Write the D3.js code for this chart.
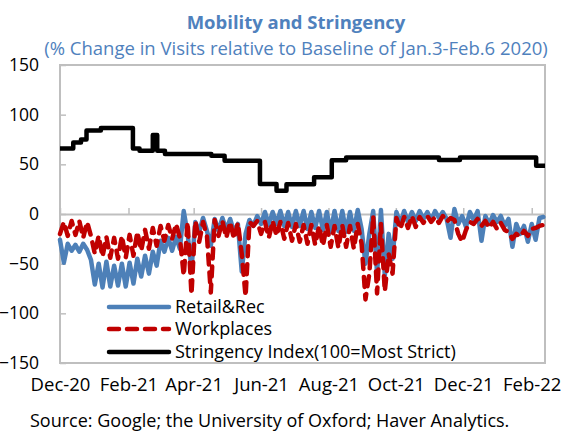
<!DOCTYPE html>
<html><head><meta charset="utf-8">
<script src="https://cdn.jsdelivr.net/npm/d3@7"></script>
<style>
html,body{margin:0;padding:0;background:#fff;}
text{font-family:"Open Sans",sans-serif;}
</style></head>
<body><svg id="c" width="562" height="435"></svg>
<script>
// ---- data ----
const titleText = "Mobility and Stringency";
const subtitleText = "(% Change in Visits relative to Baseline of Jan.3-Feb.6 2020)";
const sourceText = "Source: Google; the University of Oxford; Haver Analytics.";
const seriesNames = ["Retail&Rec", "Workplaces", "Stringency Index(100=Most Strict)"];
const yTicks = [-150, -100, -50, 0, 50, 100, 150];
const xTickDates = ["2020-12-01","2021-02-01","2021-04-01","2021-06-01","2021-08-01","2021-10-01","2021-12-01","2022-02-01"];
const xDomain = ["2020-12-01", "2022-02-13"];
// mobility readings, every 3.5 days from this date
const mobilityStart = "2020-12-01";
const mobilityStepHours = 84;
const retail = [-26,-49,-30,-37,-31,-38,-30,-36,-46,-71,-50,-74,-48,-73,-52,-72,-50,-73,-49,-70,
-45,-63,-42,-60,-38,-52,-27,-38,-24,-37,-23,-35,3,-20,-55,-8,-18,-4,-17,-32,
-5,-17,-4,-16,-5,-18,-10,-58,-20,-6,-12,-2,-10,2,-11,2,-10,3,-12,2,
-13,3,-12,3,-15,2,-14,3,-16,2,-18,3,-17,3,-18,2,-17,4,-15,-50,
-20,3,-60,4,-62,-20,-45,2,-10,3,-8,2,-7,3,-5,2,-6,3,-4,2,
-5,-24,5,-10,-2,-13,2,-6,3,-27,-2,-10,-1,-8,-2,-12,-5,-33,-10,-20,
-12,-28,-10,-26,-4,-3];
const workplaces = [-20,-8,-22,-7,-21,-7,-24,-8,-22,-40,-22,-43,-23,-44,-24,-45,-22,-44,-21,-42,
-18,-37,-16,-35,-14,-32,-12,-27,-11,-25,-10,-24,-62,-8,-81,-7,-28,-8,-22,-79,
-6,-22,-7,-24,-8,-25,-9,-40,-83,-8,-12,-7,-20,-8,-24,-7,-22,-8,-25,-9,
-27,-10,-28,-11,-30,-11,-31,-12,-32,-11,-33,-12,-34,-11,-33,-12,-35,-10,-30,-86,
-60,-2,-80,-10,-78,-40,-60,-4,-15,-3,-14,-2,-13,-3,-9,-2,-8,-3,-9,-2,
-8,-4,-6,-20,-28,-16,-8,-10,-5,-12,-7,-14,-8,-15,-9,-16,-18,-25,-20,-23,
-17,-22,-15,-14,-12,-11];
// stringency index: change dates and levels
const stringencyDates = ["2020-12-01","2020-12-13","2020-12-20","2020-12-25","2021-01-07","2021-02-05","2021-02-11",
"2021-02-23","2021-02-27","2021-03-06","2021-04-17","2021-04-29","2021-05-31","2021-06-15","2021-06-24",
"2021-07-19","2021-08-04","2021-08-17","2021-11-09","2021-11-28","2022-02-05","2022-02-13"];
const stringency = [66,72,75,84,86.6,66,63.7,79.6,63.7,60.4,58.7,53.7,30.2,23.5,30,37,54,57,54.4,57,48.7,48.7];

// ---- chart ----
const parse = d3.timeParse("%Y-%m-%d");
const svg = d3.select("#c");
svg.append("rect").attr("width",562).attr("height",435).attr("fill","#fff");
const W = {l:60, r:545, t:65, b:363};
const x = d3.scaleTime().domain(xDomain.map(parse)).range([W.l, W.r]);
const y = d3.scaleLinear().domain([-150,150]).range([W.b, W.t]);
const gray = "#bfbfbf";
const blue = "#4d80b8", red = "#c00000", titleBlue = "#4f81bd";
const fs = 18.5;

// plot border
svg.append("rect").attr("x",W.l).attr("y",W.t).attr("width",W.r-W.l).attr("height",W.b-W.t)
  .attr("fill","none").attr("stroke",gray).attr("stroke-width",2);

// y axis
const yAx = svg.append("g").attr("transform",`translate(${W.l},0)`)
  .call(d3.axisLeft(y).tickValues(yTicks).tickSize(-6).tickPadding(21));
yAx.select(".domain").remove();
yAx.selectAll("line").attr("stroke",gray).attr("stroke-width",1.5);
yAx.selectAll("text").attr("font-size",17.5).attr("fill","#000").attr("font-family","Open Sans");

// zero line with ticks
const zAx = svg.append("g").attr("transform",`translate(0,${y(0)})`)
  .call(d3.axisTop(x).tickValues(xTickDates.map(parse)).tickSize(6).tickSizeOuter(0).tickFormat(""));
zAx.select(".domain").attr("stroke",gray).attr("stroke-width",2);
zAx.selectAll("line").attr("stroke",gray).attr("stroke-width",1.5);

// bottom labels
const bAx = svg.append("g").attr("transform",`translate(0,${W.b})`)
  .call(d3.axisBottom(x).tickValues(xTickDates.map(parse)).tickSize(0).tickPadding(15).tickFormat(d3.timeFormat("%b-%y")));
bAx.select(".domain").remove();
bAx.selectAll("text").attr("font-size",fs).attr("fill","#000").attr("font-family","Open Sans");

// series
const start = parse(mobilityStart);
const mobDate = i => d3.timeHour.offset(start, i*mobilityStepHours);
const mline = d3.line().x((d,i)=>x(mobDate(i))).y(d=>y(d));
svg.append("path").datum(retail).attr("d",mline).attr("fill","none")
  .attr("stroke",blue).attr("stroke-width",4.5).attr("stroke-linejoin","round").attr("stroke-linecap","round");
svg.append("path").datum(workplaces).attr("d",mline).attr("fill","none")
  .attr("stroke",red).attr("stroke-width",4.5).attr("stroke-linejoin","round").attr("stroke-linecap","round")
  .attr("stroke-dasharray","10,8");
const sdata = stringencyDates.map((d,i)=>({d:parse(d), v:stringency[i]}));
svg.append("path").datum(sdata).attr("d", d3.line().curve(d3.curveStepAfter).x(d=>x(d.d)).y(d=>y(d.v)))
  .attr("fill","none").attr("stroke","#000").attr("stroke-width",4.5).attr("stroke-linejoin","round");

// legend
const legY = [307, 329, 352];
const legStyles = [{c:blue,dash:null},{c:red,dash:"10,8"},{c:"#000",dash:null}];
seriesNames.forEach((n,i)=>{
  svg.append("line").attr("x1",109).attr("x2",169).attr("y1",legY[i]).attr("y2",legY[i])
    .attr("stroke",legStyles[i].c).attr("stroke-width",4.5).attr("stroke-linecap","round")
    .attr("stroke-dasharray",legStyles[i].dash);
  svg.append("text").attr("x",175).attr("y",legY[i]).attr("dy","0.35em").attr("font-size",18).text(n);
});

// titles
svg.append("text").attr("x",296).attr("y",29).attr("text-anchor","middle").attr("font-size",18.5)
  .attr("font-weight","bold").attr("fill",titleBlue).text(titleText);
svg.append("text").attr("x",296).attr("y",55).attr("text-anchor","middle").attr("font-size",18.5)
  .attr("fill",titleBlue).text(subtitleText);
svg.append("text").attr("x",30).attr("y",427).attr("font-size",18).attr("fill","#000").text(sourceText);
</script></body></html>
